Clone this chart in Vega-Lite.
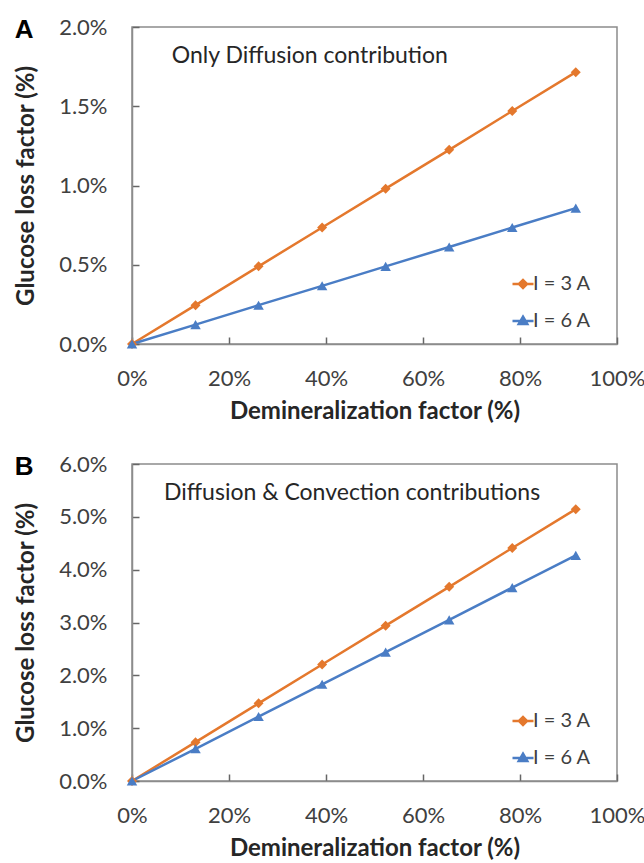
{
  "$schema": "https://vega.github.io/schema/vega-lite/v6.json",
  "background": "white",
  "padding": {"left": 13, "top": 15, "right": 0, "bottom": 5},
  "datasets": {
    "a": [
      {"demin": 0, "loss": 0, "series": "I = 3 A"},
      {"demin": 13.1, "loss": 0.245, "series": "I = 3 A"},
      {"demin": 26.1, "loss": 0.49, "series": "I = 3 A"},
      {"demin": 39.2, "loss": 0.735, "series": "I = 3 A"},
      {"demin": 52.3, "loss": 0.98, "series": "I = 3 A"},
      {"demin": 65.4, "loss": 1.225, "series": "I = 3 A"},
      {"demin": 78.4, "loss": 1.47, "series": "I = 3 A"},
      {"demin": 91.5, "loss": 1.715, "series": "I = 3 A"},
      {"demin": 0, "loss": 0, "series": "I = 6 A"},
      {"demin": 13.1, "loss": 0.122, "series": "I = 6 A"},
      {"demin": 26.1, "loss": 0.245, "series": "I = 6 A"},
      {"demin": 39.2, "loss": 0.367, "series": "I = 6 A"},
      {"demin": 52.3, "loss": 0.49, "series": "I = 6 A"},
      {"demin": 65.4, "loss": 0.612, "series": "I = 6 A"},
      {"demin": 78.4, "loss": 0.735, "series": "I = 6 A"},
      {"demin": 91.5, "loss": 0.857, "series": "I = 6 A"}
    ],
    "b": [
      {"demin": 0, "loss": 0, "series": "I = 3 A"},
      {"demin": 13.1, "loss": 0.735, "series": "I = 3 A"},
      {"demin": 26.1, "loss": 1.47, "series": "I = 3 A"},
      {"demin": 39.2, "loss": 2.205, "series": "I = 3 A"},
      {"demin": 52.3, "loss": 2.94, "series": "I = 3 A"},
      {"demin": 65.4, "loss": 3.675, "series": "I = 3 A"},
      {"demin": 78.4, "loss": 4.41, "series": "I = 3 A"},
      {"demin": 91.5, "loss": 5.145, "series": "I = 3 A"},
      {"demin": 0, "loss": 0, "series": "I = 6 A"},
      {"demin": 13.1, "loss": 0.61, "series": "I = 6 A"},
      {"demin": 26.1, "loss": 1.22, "series": "I = 6 A"},
      {"demin": 39.2, "loss": 1.83, "series": "I = 6 A"},
      {"demin": 52.3, "loss": 2.44, "series": "I = 6 A"},
      {"demin": 65.4, "loss": 3.05, "series": "I = 6 A"},
      {"demin": 78.4, "loss": 3.66, "series": "I = 6 A"},
      {"demin": 91.5, "loss": 4.27, "series": "I = 6 A"}
    ]
  },
  "config": {
    "font": "Lato",
    "view": {"stroke": "#8c8c8c", "strokeWidth": 1.5},
    "axis": {
      "grid": false,
      "ticks": true,
      "labelFont": "Lato",
      "titleFont": "Lato",
      "labelFontSize": 22,
      "labelColor": "#404040",
      "titleFontSize": 24,
      "titleFontWeight": "bold",
      "titleColor": "#262626",
      "domainColor": "#8c8c8c",
      "domainWidth": 1.5,
      "tickColor": "#666666",
      "tickWidth": 1.5,
      "tickSize": -7,
      "labelFlush": false,
      "labelOverlap": false
    },
    "axisX": {"labelPadding": 31, "titlePadding": 10},
    "axisY": {"labelPadding": 32, "titlePadding": 20},
    "legend": {
      "labelFont": "Lato",
      "labelFontSize": 20,
      "labelColor": "#404040",
      "symbolSize": 100,
      "symbolStrokeWidth": 2.5,
      "rowPadding": 17,
      "labelOffset": 0,
      "padding": 0
    },
    "title": {
      "font": "Liberation Sans",
      "fontSize": 26,
      "fontWeight": "bold",
      "color": "#000000",
      "anchor": "start",
      "frame": "bounds",
      "offset": -27
    },
    "concat": {"spacing": 28}
  },
  "resolve": {"scale": {"color": "independent"}},
  "vconcat": [
    {
      "title": "A",
      "width": 485,
      "height": 317,
      "data": {"name": "a"},
      "layer": [
        {
          "mark": {"type": "line", "strokeWidth": 2.5},
          "encoding": {
            "x": {"field": "demin", "type": "quantitative", "scale": {"domain": [0, 100]}, "axis": {"values": [0, 20, 40, 60, 80, 100], "labelExpr": "datum.value + '%'", "title": "Demineralization factor (%)"}},
            "y": {"field": "loss", "type": "quantitative", "scale": {"domain": [0, 2]}, "axis": {"values": [0, 0.5, 1, 1.5, 2], "labelExpr": "format(datum.value, '.1f') + '%'", "title": "Glucose loss factor (%)"}},
            "color": {"field": "series", "type": "nominal", "scale": {"domain": ["I = 3 A", "I = 6 A"], "range": ["#E4782D", "#4A7DC5"]},
              "legend": {"title": null, "orient": "none", "legendX": 381, "legendY": 247,
                "encode": {"symbols": {"update": {
                  "shape": {"signal": "datum.value === 'I = 3 A' ? 'M-2.1,0H2.1M-0.8,0L0,-0.8L0.8,0L0,0.8Z' : 'M-2.1,0H2.1M0,-0.85L0.85,0.6L-0.85,0.6Z'"},
                  "stroke": {"signal": "datum.value === 'I = 3 A' ? '#E4782D' : '#4A7DC5'"},
                  "fill": {"signal": "datum.value === 'I = 3 A' ? '#E4782D' : '#4A7DC5'"},
                  "strokeWidth": {"value": 2.5},
                  "opacity": {"value": 1}}}}}}
          }
        },
        {
          "transform": [{"filter": "datum.series === 'I = 3 A'"}],
          "mark": {"type": "point", "shape": "diamond", "filled": true, "size": 100, "opacity": 1},
          "encoding": {
            "x": {"field": "demin", "type": "quantitative"},
            "y": {"field": "loss", "type": "quantitative"},
            "color": {"field": "series", "type": "nominal", "legend": null}
          }
        },
        {
          "transform": [{"filter": "datum.series === 'I = 6 A'"}],
          "mark": {"type": "point", "shape": "triangle-up", "filled": true, "size": 110, "opacity": 1},
          "encoding": {
            "x": {"field": "demin", "type": "quantitative"},
            "y": {"field": "loss", "type": "quantitative"},
            "color": {"field": "series", "type": "nominal", "legend": null}
          }
        },
        {
          "mark": {"type": "text", "align": "left", "baseline": "middle", "fontSize": 23, "color": "#262626"},
          "transform": [{"filter": "datum.demin === 0 && datum.series === 'I = 3 A'"}],
          "encoding": {
            "x": {"datum": 8.2, "type": "quantitative"},
            "y": {"datum": 1.82, "type": "quantitative"},
            "text": {"value": "Only Diffusion contribution"}
          }
        }
      ]
    },
    {
      "title": "B",
      "width": 485,
      "height": 317,
      "data": {"name": "b"},
      "layer": [
        {
          "mark": {"type": "line", "strokeWidth": 2.5},
          "encoding": {
            "x": {"field": "demin", "type": "quantitative", "scale": {"domain": [0, 100]}, "axis": {"values": [0, 20, 40, 60, 80, 100], "labelExpr": "datum.value + '%'", "title": "Demineralization factor (%)"}},
            "y": {"field": "loss", "type": "quantitative", "scale": {"domain": [0, 6]}, "axis": {"values": [0, 1, 2, 3, 4, 5, 6], "labelExpr": "format(datum.value, '.1f') + '%'", "title": "Glucose loss factor (%)"}},
            "color": {"field": "series", "type": "nominal", "scale": {"domain": ["I = 3 A", "I = 6 A"], "range": ["#E4782D", "#4A7DC5"]},
              "legend": {"title": null, "orient": "none", "legendX": 381, "legendY": 247,
                "encode": {"symbols": {"update": {
                  "shape": {"signal": "datum.value === 'I = 3 A' ? 'M-2.1,0H2.1M-0.8,0L0,-0.8L0.8,0L0,0.8Z' : 'M-2.1,0H2.1M0,-0.85L0.85,0.6L-0.85,0.6Z'"},
                  "stroke": {"signal": "datum.value === 'I = 3 A' ? '#E4782D' : '#4A7DC5'"},
                  "fill": {"signal": "datum.value === 'I = 3 A' ? '#E4782D' : '#4A7DC5'"},
                  "strokeWidth": {"value": 2.5},
                  "opacity": {"value": 1}}}}}}
          }
        },
        {
          "transform": [{"filter": "datum.series === 'I = 3 A'"}],
          "mark": {"type": "point", "shape": "diamond", "filled": true, "size": 100, "opacity": 1},
          "encoding": {
            "x": {"field": "demin", "type": "quantitative"},
            "y": {"field": "loss", "type": "quantitative"},
            "color": {"field": "series", "type": "nominal", "legend": null}
          }
        },
        {
          "transform": [{"filter": "datum.series === 'I = 6 A'"}],
          "mark": {"type": "point", "shape": "triangle-up", "filled": true, "size": 110, "opacity": 1},
          "encoding": {
            "x": {"field": "demin", "type": "quantitative"},
            "y": {"field": "loss", "type": "quantitative"},
            "color": {"field": "series", "type": "nominal", "legend": null}
          }
        },
        {
          "mark": {"type": "text", "align": "left", "baseline": "middle", "fontSize": 23, "color": "#262626"},
          "transform": [{"filter": "datum.demin === 0 && datum.series === 'I = 3 A'"}],
          "encoding": {
            "x": {"datum": 6.6, "type": "quantitative"},
            "y": {"datum": 5.45, "type": "quantitative"},
            "text": {"value": "Diffusion & Convection contributions"}
          }
        }
      ]
    }
  ]
}
